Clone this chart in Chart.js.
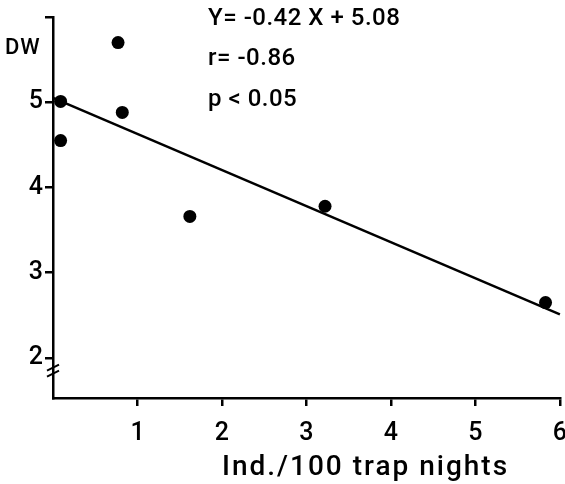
<!DOCTYPE html>
<html lang="en">
<head>
    <meta charset="UTF-8">
    <title>DW vs trap nights</title>
    <script src="https://cdn.jsdelivr.net/npm/chart.js"></script>
    <style>
        body {
            margin: 0;
            padding: 0;
            overflow: hidden;
            background: #fff;
        }
        canvas {
            display: block;
        }
    </style>
</head>
<body>
    <canvas id="dwChart" width="580" height="484"></canvas>
    <script>
        // observed points (Ind./100 trap nights, DW)
        const densityX = [0.09, 0.09, 0.77, 0.82, 1.62, 3.22, 5.83];
        const dwY = [5.01, 4.55, 5.70, 4.88, 3.66, 3.78, 2.65];

        // regression line ends
        const fitX = [0, 6];
        const fitY = [5.05, 2.51];

        const xTicks = [1, 2, 3, 4, 5, 6];
        const yTicks = [2, 3, 4, 5, 6];
        const yTickLabels = ['2', '3', '4', '5', ''];

        const statLines = ['Y= -0.42 X + 5.08', 'r= -0.86', 'p < 0.05'];
        const yTitle = 'DW';
        const xTitle = 'Ind./100 trap nights';

        const FONT = 'Roboto, "DejaVu Sans", sans-serif';

        // free text + axis break marks
        const annotations = {
            id: 'annotations',
            afterDraw(chart) {
                const ctx = chart.ctx;
                const area = chart.chartArea;
                const yScale = chart.scales.y;
                ctx.save();
                ctx.fillStyle = '#000';
                ctx.textBaseline = 'middle';
                ctx.textAlign = 'left';

                ctx.letterSpacing = '1px';
                ctx.font = '500 22px ' + FONT;
                ctx.fillText(yTitle, 5, 48);

                ctx.letterSpacing = '0.5px';
                ctx.font = '500 24px ' + FONT;
                const rows = [19, 59, 100];
                statLines.forEach((t, i) => ctx.fillText(t, 208, rows[i]));

                ctx.letterSpacing = '2px';
                ctx.font = '500 28px ' + FONT;
                ctx.fillText(xTitle, 222, 468);
                ctx.letterSpacing = '0px';

                // axis break on y axis
                ctx.strokeStyle = '#000';
                ctx.lineWidth = 2;
                const yb = yScale.getPixelForValue(1.85);
                [-3, 3].forEach(off => {
                    ctx.beginPath();
                    ctx.moveTo(area.left - 6, yb + off + 3);
                    ctx.lineTo(area.left + 6, yb + off - 3);
                    ctx.stroke();
                });
                ctx.restore();
            }
        };

        const ctx = document.getElementById('dwChart').getContext('2d');
        new Chart(ctx, {
            type: 'scatter',
            data: {
                datasets: [
                    {
                        label: 'Observed',
                        data: densityX.map((x, i) => ({ x: x, y: dwY[i] })),
                        backgroundColor: '#000',
                        borderWidth: 0,
                        pointRadius: 6.5,
                        clip: false
                    },
                    {
                        type: 'line',
                        label: 'Fit',
                        data: fitX.map((x, i) => ({ x: x, y: fitY[i] })),
                        borderColor: '#000',
                        borderWidth: 2.5,
                        pointRadius: 0,
                        fill: false,
                        clip: false
                    }
                ]
            },
            options: {
                responsive: false,
                animation: false,
                layout: {
                    padding: { top: 16, right: 18, bottom: 0, left: 0 }
                },
                scales: {
                    x: {
                        type: 'linear',
                        min: 0,
                        max: 6,
                        afterBuildTicks: axis => {
                            axis.ticks = xTicks.map(v => ({ value: v }));
                        },
                        afterFit: scale => { scale.height = 86; },
                        ticks: {
                            color: '#000',
                            font: { family: FONT, size: 25, weight: '500' },
                            padding: 13,
                            maxRotation: 0,
                            autoSkip: false
                        },
                        grid: {
                            drawOnChartArea: false,
                            drawTicks: true,
                            tickLength: 8,
                            color: '#000',
                            lineWidth: 2.5
                        },
                        border: { color: '#000', width: 2.5 }
                    },
                    y: {
                        type: 'linear',
                        min: 1.53,
                        max: 6,
                        afterBuildTicks: axis => {
                            axis.ticks = yTicks.map(v => ({ value: v }));
                        },
                        afterFit: scale => { scale.width = 53; },
                        ticks: {
                            color: '#000',
                            font: { family: FONT, size: 25, weight: '500' },
                            padding: 2,
                            autoSkip: false,
                            callback: (v) => yTickLabels[yTicks.indexOf(v)]
                        },
                        grid: {
                            drawOnChartArea: false,
                            drawTicks: true,
                            tickLength: 8,
                            color: '#000',
                            lineWidth: 2.5
                        },
                        border: { color: '#000', width: 2.5 }
                    }
                },
                plugins: {
                    legend: { display: false },
                    tooltip: { enabled: false }
                }
            },
            plugins: [annotations]
        });
    </script>
</body>
</html>
